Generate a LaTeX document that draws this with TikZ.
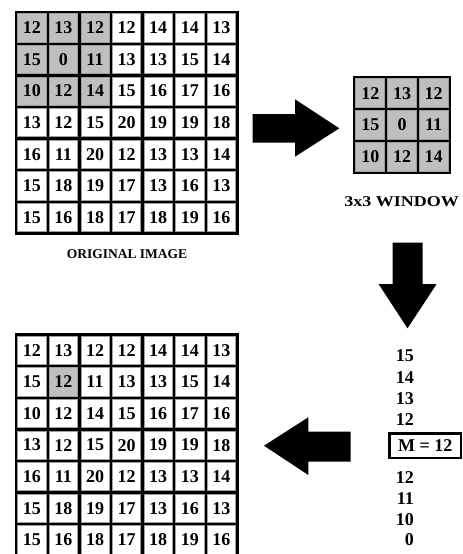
\documentclass[tikz,border=0pt]{standalone}
\usepackage{fontspec}
\setmainfont{Liberation Serif}
\begin{document}
\begin{tikzpicture}[x=1pt,y=-1pt,
  cell0/.style={draw=gray!75, line width=0.8pt, fill=white, minimum width=28.2pt, minimum height=28.2pt, inner sep=0pt, font=\fontsize{18}{18}\selectfont\bfseries, text=black},
  cell1/.style={cell0, fill=black!25},
  gridbg/.style={fill=black},
  lbl/.style={font=\fontsize{14}{14}\selectfont\bfseries, inner sep=0pt},
  listnum/.style={font=\fontsize{18}{18}\selectfont\bfseries, inner sep=0pt, anchor=east},
  mbox/.style={draw=black, line width=2.6pt, minimum width=71.4pt, minimum height=24.4pt, inner sep=0pt, font=\fontsize{18}{18}\selectfont\bfseries},
  blockarrow/.style={fill=black}]
\clip (0,0) rectangle (463,554);
\def\pp{31.6}
% ---------- original image ----------
\fill[gridbg] (14.5,10.5) rectangle ++(224.2,224.2);
\foreach \row [count=\r] in {{12,13,12,12,14,14,13},{15,0,11,13,13,15,14},{10,12,14,15,16,17,16},{13,12,15,20,19,19,18},{16,11,20,12,13,13,14},{15,18,19,17,13,16,13},{15,16,18,17,18,19,16}}{
  \foreach \v [count=\c] in \row {
    \pgfmathtruncatemacro\g{and(\r<4,\c<4)}
    \node[cell\g] (t-\r-\c) at ({16+(\c-0.5)*\pp},{12+(\r-0.5)*\pp}) {\v};
  }
}
\node[lbl, font=\fontsize{13.5}{13.5}\selectfont\bfseries] (origlbl) at (127,254) {ORIGINAL IMAGE};
% ---------- 3x3 window ----------
\fill[gridbg] (353,76) rectangle ++(98,98);
\foreach \row [count=\r] in {{12,13,12},{15,0,11},{10,12,14}}{
  \foreach \v [count=\c] in \row {
    \node[cell1, minimum width=29pt, minimum height=29pt] (w-\r-\c) at ({354.5+(\c-0.5)*31.67},{77.5+(\r-0.5)*31.67}) {\v};
  }
}
\node[lbl, font=\fontsize{15}{15}\selectfont\bfseries, xscale=1.2] (winlbl) at (401.7,201.7) {3x3 WINDOW};
% ---------- sorted list ----------
\node[listnum] (s1) at (414,356) {15};
\node[listnum] (s2) at (414,377.7) {14};
\node[listnum] (s3) at (414,398.3) {13};
\node[listnum] (s4) at (414,420) {12};
\node[mbox] (m) at (425.3,445.8) {M = 12};
\node[listnum] (s6) at (414,477.7) {12};
\node[listnum] (s7) at (414,498.3) {11};
\node[listnum] (s8) at (414,519.3) {10};
\node[listnum] (s9) at (414,539.3) {0};
% ---------- filtered image ----------
\fill[gridbg] (14.5,333) rectangle ++(224.2,224.2);
\foreach \row [count=\r] in {{12,13,12,12,14,14,13},{15,12,11,13,13,15,14},{10,12,14,15,16,17,16},{13,12,15,20,19,19,18},{16,11,20,12,13,13,14},{15,18,19,17,13,16,13},{15,16,18,17,18,19,16}}{
  \foreach \v [count=\c] in \row {
    \pgfmathtruncatemacro\g{and(\r==2,\c==2)}
    \node[cell\g] (b-\r-\c) at ({16+(\c-0.5)*\pp},{334.5+(\r-0.5)*\pp}) {\v};
  }
}
% ---------- block arrows ----------
\fill[blockarrow] (252.7,114) -- (295,114) -- (295,99.3) -- (339.3,128.3) -- (295,156.7) -- (295,142.7) -- (252.7,142.7) -- cycle;
\fill[blockarrow] (392.5,242.7) -- (422.7,242.7) -- (422.7,284.2) -- (436.5,284.2) -- (407.5,328.3) -- (378.7,284.2) -- (392.5,284.2) -- cycle;
\fill[blockarrow] (350.7,431.7) -- (308.3,431.7) -- (308.3,417.3) -- (264,445.7) -- (308.3,475) -- (308.3,461.7) -- (350.7,461.7) -- cycle;
\end{tikzpicture}
\end{document}
